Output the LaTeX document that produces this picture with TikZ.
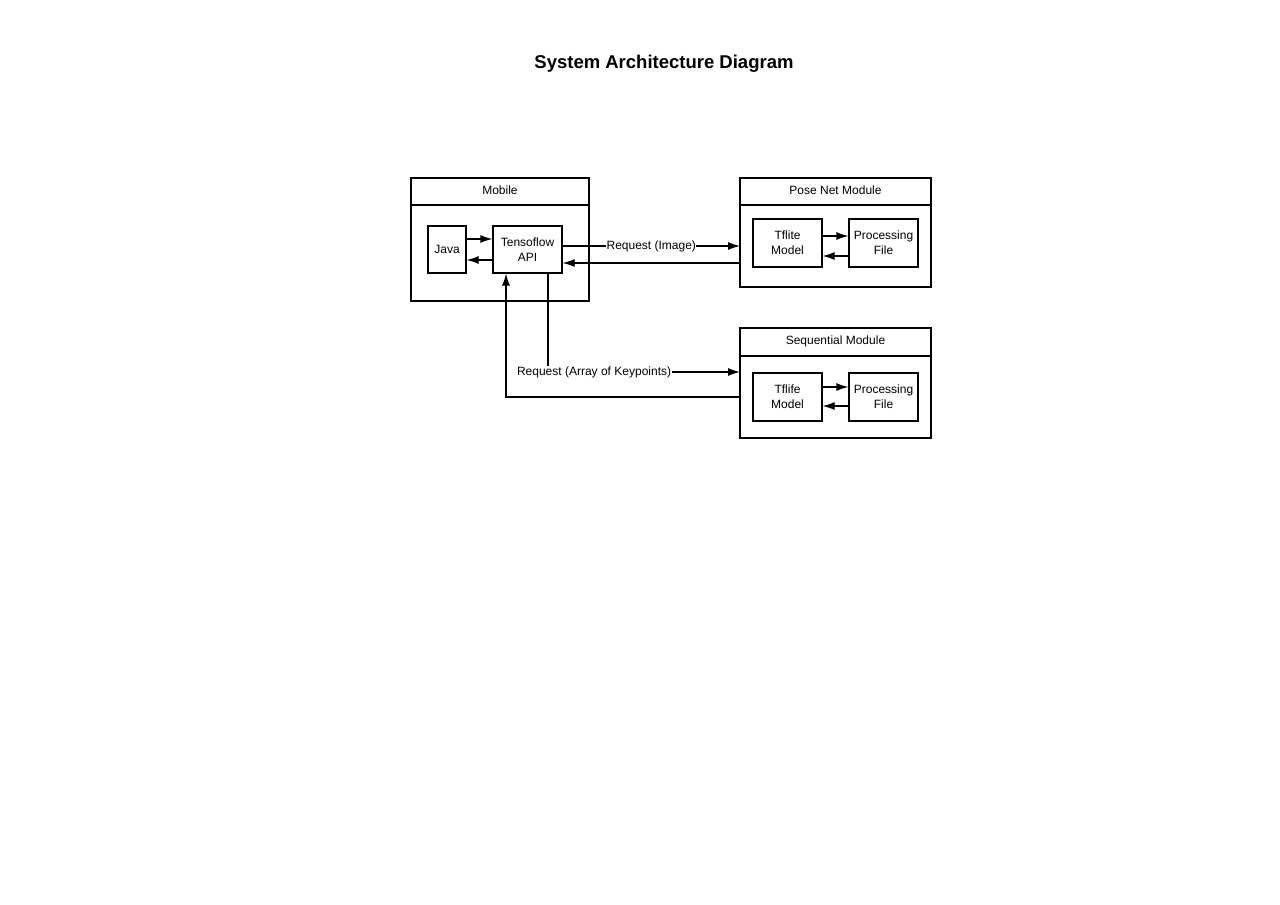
\documentclass[tikz,border=0pt]{standalone}
\usepackage{fontspec}
\setmainfont{Liberation Sans}
\usetikzlibrary{arrows.meta,calc}
\begin{document}
\begin{tikzpicture}[x=1pt,y=-1pt,
  box/.style={draw,line width=1.2pt,inner sep=0pt},
  lbl/.style={font=\fontsize{12}{15}\selectfont,align=center},
  conn/.style={line width=1.2pt,-{Latex[length=12pt,width=8pt]}},
  wire/.style={line width=1.2pt}]
\useasboundingbox (0,0) rectangle (1280,905);
\node[font=\bfseries\fontsize{18.5}{22}\selectfont] (title) at (664,64) {System Architecture Diagram};
% Mobile
\draw[box] (411,178) rectangle (589,301);
\draw[wire] (411,205) -- (589,205);
\node[lbl] (mob) at (500,190) {Mobile};
\node[box,lbl,minimum width=38pt,minimum height=47pt] (java) at (447,249.5) {Java};
\node[box,lbl,minimum width=69pt,minimum height=47pt] (tf) at (527.5,249.5) {Tensoflow\\API};
% Pose Net
\draw[box] (740,178) rectangle (931,287);
\draw[wire] (740,205) -- (931,205);
\node[lbl] (pose) at (835.5,190) {Pose Net Module};
\node[box,lbl,minimum width=69pt,minimum height=48pt] (tfl1) at (787.5,243) {Tflite\\Model};
\node[box,lbl,minimum width=69pt,minimum height=48pt] (pf1) at (883.5,243) {Processing\\File};
% Sequential
\draw[box] (740,328) rectangle (931,438);
\draw[wire] (740,356) -- (931,356);
\node[lbl] (seq) at (835.5,341) {Sequential Module};
\node[box,lbl,minimum width=69pt,minimum height=48pt] (tfl2) at (787.5,397) {Tflife\\Model};
\node[box,lbl,minimum width=69pt,minimum height=48pt] (pf2) at (883.5,397) {Processing\\File};
% anchors on module edges
\coordinate (poseIn) at (740,246);
\coordinate (poseOut) at (740,263);
\coordinate (seqIn) at (740,372);
\coordinate (seqOut) at (740,397);
% inner arrows
\draw[conn] (java.east |- 0,239) -- (tf.west |- 0,239);
\draw[conn] (tf.west |- 0,260) -- (java.east |- 0,260);
\draw[conn] (tfl1.east |- 0,236) -- (pf1.west |- 0,236);
\draw[conn] (pf1.west |- 0,256) -- (tfl1.east |- 0,256);
\draw[conn] (tfl2.east |- 0,387) -- (pf2.west |- 0,387);
\draw[conn] (pf2.west |- 0,406) -- (tfl2.east |- 0,406);
% requests
\draw[conn] (tf.east |- poseIn) -- node[pos=0.5,fill=white,inner sep=0.5pt,lbl] (rq1) {Request (Image)} (poseIn);
\draw[conn] (poseOut) -- (tf.east |- poseOut);
\draw[conn] (tf.south -| 548,0) |- node[pos=0.62,fill=white,inner sep=0.5pt,lbl] (rq2) {Request (Array of Keypoints)} (seqIn);
\draw[conn] (seqOut) -| (tf.south -| 506,0);
\end{tikzpicture}
\end{document}
